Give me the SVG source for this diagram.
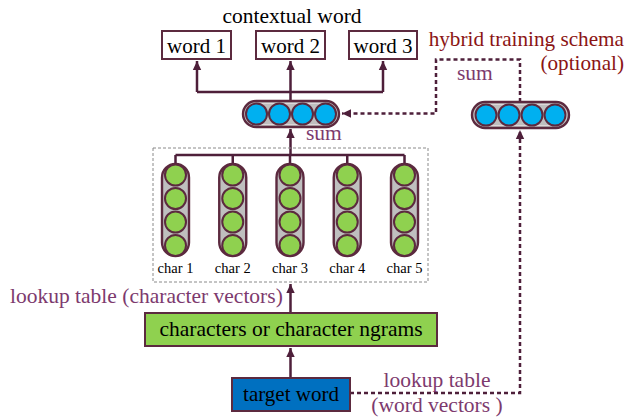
<svg xmlns="http://www.w3.org/2000/svg" width="629" height="417" viewBox="0 0 629 417" font-family="'Liberation Serif', 'DejaVu Serif', serif">
  <style>
    text { font-family: "Liberation Serif", "DejaVu Serif", serif; }
    .lbl { font-size: 21.5px; fill: #000; }
    .wd { font-size: 21px; fill: #000; }
    .pur { font-size: 21.5px; fill: #7d3a6e; }
    .red { font-size: 21.2px; fill: #8b1414; }
    .chr { font-size: 14.5px; fill: #000; }
    .box { stroke: #5c2a3f; stroke-width: 2; }
    .vec { fill: #bfbfbf; stroke: #5c2a3f; stroke-width: 2.4; }
    .vin { fill: none; stroke: #e6dde1; stroke-width: 0.8; }
    .cb { fill: #00b0f0; stroke: #5c2a3f; stroke-width: 2; }
    .cg { fill: #8fd14f; stroke: #5c2a3f; stroke-width: 2; }
    .ln { fill: none; stroke: #4e1f3a; stroke-width: 2.5; }
    .dl { fill: none; stroke: #4e1f3a; stroke-width: 2.5; stroke-dasharray: 4 3; }
  </style>
  <defs>
    <marker id="arr" markerUnits="userSpaceOnUse" markerWidth="10" markerHeight="10" refX="9" refY="5" orient="auto">
      <path d="M0,0.8 L9,5 L0,9.2 Z" fill="#4e1f3a"/>
    </marker>
  </defs>
  <rect width="629" height="417" fill="#fff"/>

  <!-- headings -->
  <text class="lbl" x="292" y="23" text-anchor="middle">contextual word</text>
  <text class="red" x="624" y="46" text-anchor="end">hybrid training schema</text>
  <text class="red" x="624" y="70" text-anchor="end">(optional)</text>

  <!-- connectors -->
  <g id="connectors">
    <path class="ln" d="M197,92 H383"/>
    <path class="ln" d="M197,92 V61" marker-end="url(#arr)"/>
    <path class="ln" d="M290.5,101 V61" marker-end="url(#arr)"/>
    <path class="ln" d="M383,92 V61" marker-end="url(#arr)"/>
    <path class="ln" d="M290.5,155 V129" marker-end="url(#arr)"/>
    <path class="ln" d="M175.5,155 H404.5 M175.5,155 V164 M232.75,155 V164 M347.25,155 V164 M404.5,155 V164 M290,155 V164"/>
    <path class="ln" d="M290.5,312 V284" marker-end="url(#arr)"/>
    <path class="ln" d="M290.5,378 V348" marker-end="url(#arr)"/>
    <path class="dl" d="M520,102 V59.5 H436 V113.5 H342" marker-end="url(#arr)"/>
    <path class="dl" d="M350,393 H520 V130" marker-end="url(#arr)"/>
  </g>

  <!-- output words -->
  <g id="word1">
    <rect class="box" x="162" y="31" width="69" height="28" fill="#fff"/>
    <text class="wd" x="196.5" y="53" text-anchor="middle">word 1</text>
  </g>
  <g id="word2">
    <rect class="box" x="256" y="31" width="69" height="28" fill="#fff"/>
    <text class="wd" x="290.5" y="53" text-anchor="middle">word 2</text>
  </g>
  <g id="word3">
    <rect class="box" x="349" y="31" width="68" height="28" fill="#fff"/>
    <text class="wd" x="383" y="53" text-anchor="middle">word 3</text>
  </g>

  <!-- summed vector -->
  <g id="sum-vector">
    <rect class="vec" x="243" y="101" width="96" height="26" rx="13"/>
    <rect class="vin" x="245.5" y="103.5" width="91" height="21" rx="10.5"/>
    <circle class="cb" cx="256.5" cy="114" r="10.5"/>
    <circle class="cb" cx="279.5" cy="114" r="10.5"/>
    <circle class="cb" cx="302.5" cy="114" r="10.5"/>
    <circle class="cb" cx="325.5" cy="114" r="10.5"/>
    <text class="pur" x="306" y="140">sum</text>
  </g>

  <!-- word vector (hybrid schema) -->
  <g id="word-vector">
    <rect class="vec" x="472" y="102" width="97" height="26" rx="13"/>
    <rect class="vin" x="474.5" y="104.5" width="92" height="21" rx="10.5"/>
    <circle class="cb" cx="486" cy="115" r="10.5"/>
    <circle class="cb" cx="509" cy="115" r="10.5"/>
    <circle class="cb" cx="532" cy="115" r="10.5"/>
    <circle class="cb" cx="555" cy="115" r="10.5"/>
    <text class="pur" x="457" y="80">sum</text>
  </g>

  <!-- character vectors -->
  <g id="char-vectors">
    <rect x="153" y="148" width="275" height="134" fill="none" stroke="#8a8a8a" stroke-width="1" stroke-dasharray="3 2"/>
    <g id="char1">
      <rect class="vec" x="162" y="164" width="27" height="92" rx="13.5"/>
      <circle class="cg" cx="175.5" cy="175" r="10.5"/>
      <circle class="cg" cx="175.5" cy="198.5" r="10.5"/>
      <circle class="cg" cx="175.5" cy="222" r="10.5"/>
      <circle class="cg" cx="175.5" cy="245.5" r="10.5"/>
      <text class="chr" x="175.5" y="273" text-anchor="middle">char 1</text>
    </g>
    <g id="char2">
      <rect class="vec" x="219.25" y="164" width="27" height="92" rx="13.5"/>
      <circle class="cg" cx="232.75" cy="175" r="10.5"/>
      <circle class="cg" cx="232.75" cy="198.5" r="10.5"/>
      <circle class="cg" cx="232.75" cy="222" r="10.5"/>
      <circle class="cg" cx="232.75" cy="245.5" r="10.5"/>
      <text class="chr" x="232.75" y="273" text-anchor="middle">char 2</text>
    </g>
    <g id="char3">
      <rect class="vec" x="276.5" y="164" width="27" height="92" rx="13.5"/>
      <circle class="cg" cx="290" cy="175" r="10.5"/>
      <circle class="cg" cx="290" cy="198.5" r="10.5"/>
      <circle class="cg" cx="290" cy="222" r="10.5"/>
      <circle class="cg" cx="290" cy="245.5" r="10.5"/>
      <text class="chr" x="290" y="273" text-anchor="middle">char 3</text>
    </g>
    <g id="char4">
      <rect class="vec" x="333.75" y="164" width="27" height="92" rx="13.5"/>
      <circle class="cg" cx="347.25" cy="175" r="10.5"/>
      <circle class="cg" cx="347.25" cy="198.5" r="10.5"/>
      <circle class="cg" cx="347.25" cy="222" r="10.5"/>
      <circle class="cg" cx="347.25" cy="245.5" r="10.5"/>
      <text class="chr" x="347.25" y="273" text-anchor="middle">char 4</text>
    </g>
    <g id="char5">
      <rect class="vec" x="391" y="164" width="27" height="92" rx="13.5"/>
      <circle class="cg" cx="404.5" cy="175" r="10.5"/>
      <circle class="cg" cx="404.5" cy="198.5" r="10.5"/>
      <circle class="cg" cx="404.5" cy="222" r="10.5"/>
      <circle class="cg" cx="404.5" cy="245.5" r="10.5"/>
      <text class="chr" x="404.5" y="273" text-anchor="middle">char 5</text>
    </g>
  </g>

  <text class="pur" x="10" y="303">lookup table (character vectors)</text>

  <!-- character ngram input -->
  <g id="ngrams">
    <rect class="box" x="145" y="313" width="292" height="33" fill="#8fd14f"/>
    <text class="lbl" x="291" y="336" text-anchor="middle">characters or character ngrams</text>
  </g>

  <!-- target word -->
  <g id="target">
    <rect class="box" x="232" y="378" width="118" height="33" fill="#0070c0"/>
    <text class="wd" x="291" y="401" text-anchor="middle">target word</text>
  </g>

  <text class="pur" x="437" y="387" text-anchor="middle">lookup table</text>
  <text class="pur" x="437" y="412" text-anchor="middle">(word vectors )</text>
</svg>
